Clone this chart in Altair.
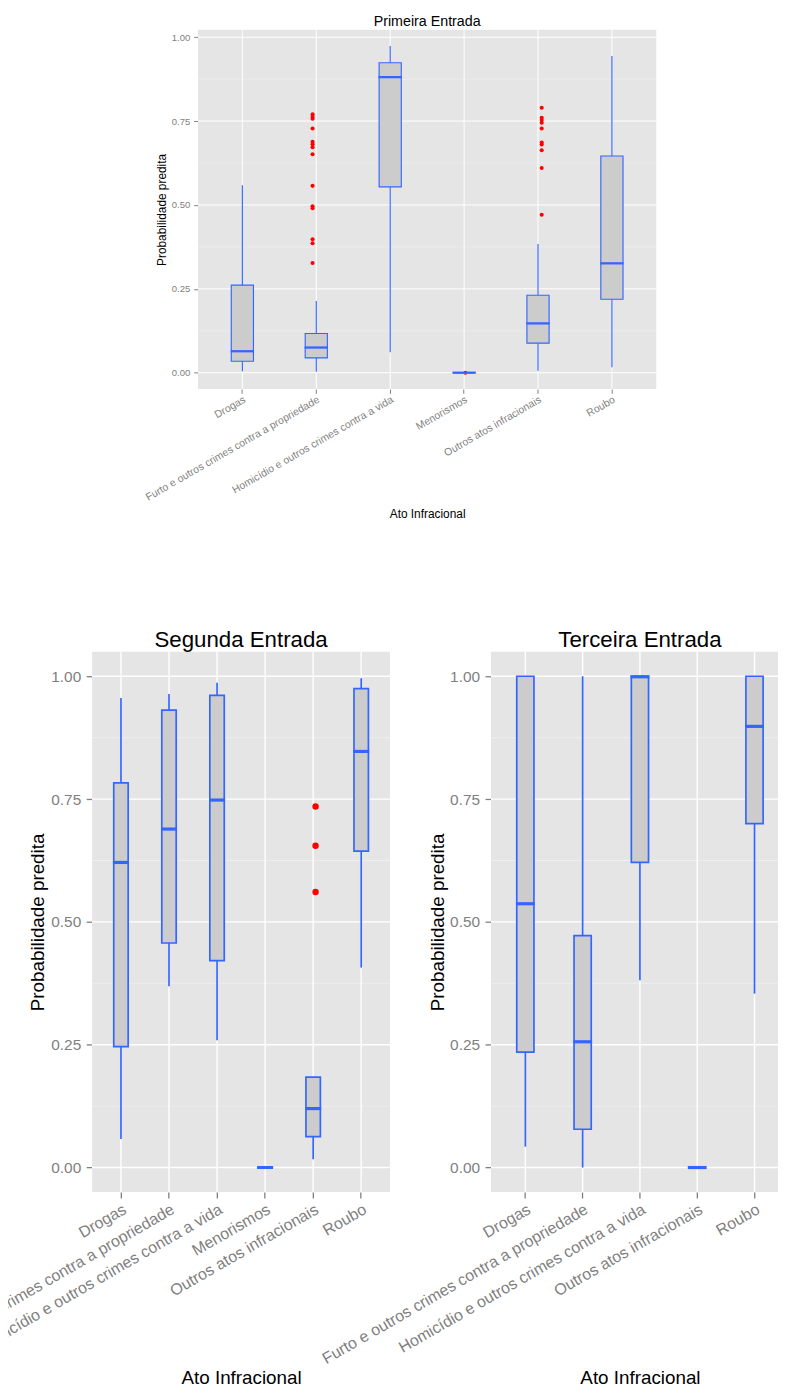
import altair as alt
import pandas as pd

# ---------------- data ----------------
CATS6 = ["Drogas", "Furto e outros crimes contra a propriedade",
         "Homicídio e outros crimes contra a vida", "Menorismos",
         "Outros atos infracionais", "Roubo"]
CATS5 = ["Drogas", "Furto e outros crimes contra a propriedade",
         "Homicídio e outros crimes contra a vida",
         "Outros atos infracionais", "Roubo"]

# Primeira Entrada
P1_LOWER = [0.004, 0.003, 0.061, 0.0, 0.006, 0.016]
P1_Q1 = [0.034, 0.044, 0.554, 0.0, 0.088, 0.219]
P1_MED = [0.064, 0.075, 0.881, 0.0, 0.147, 0.326]
P1_Q3 = [0.261, 0.117, 0.924, 0.0, 0.231, 0.646]
P1_UPPER = [0.559, 0.214, 0.974, 0.0, 0.384, 0.944]
P1_OUT_CAT = (["Furto e outros crimes contra a propriedade"] * 14
              + ["Menorismos"]
              + ["Outros atos infracionais"] * 10)
P1_OUT_VAL = [0.770, 0.763, 0.757, 0.728, 0.688, 0.681, 0.672, 0.651,
              0.557, 0.496, 0.490, 0.398, 0.386, 0.327,
              0.0,
              0.790, 0.760, 0.753, 0.745, 0.728, 0.686, 0.680, 0.663,
              0.610, 0.471]

# Segunda Entrada
P2_LOWER = [0.058, 0.369, 0.259, 0.0, 0.017, 0.407]
P2_Q1 = [0.246, 0.457, 0.421, 0.0, 0.063, 0.644]
P2_MED = [0.621, 0.689, 0.748, 0.0, 0.120, 0.847]
P2_Q3 = [0.783, 0.931, 0.961, 0.0, 0.184, 0.975]
P2_UPPER = [0.956, 0.964, 0.987, 0.0, 0.184, 0.996]
P2_OUT_CAT = ["Outros atos infracionais"] * 3
P2_OUT_VAL = [0.735, 0.655, 0.561]

# Terceira Entrada
P3_LOWER = [0.0425, 0.0, 0.381, 0.0, 0.354]
P3_Q1 = [0.235, 0.078, 0.621, 0.0, 0.700]
P3_MED = [0.537, 0.256, 0.999, 0.0, 0.898]
P3_Q3 = [1.0, 0.472, 1.0, 0.0, 1.0]
P3_UPPER = [1.0, 1.0, 1.0, 0.0, 1.0]
P3_OUT_CAT = []
P3_OUT_VAL = []

Y_TICKS = [0.0, 0.25, 0.5, 0.75, 1.0]
MINOR = [0.125, 0.375, 0.625, 0.875]

BLUE = "#3366FF"
BOXFILL = "#CCCCCC"
RED = "#FF0000"
BG = "#E5E5E5"
MINOR_COL = "#F2F2F2"
GREY = "#7F7F7F"
FONT = "Liberation Sans"

W, H = 778, 1386   # whole drawing (page minus 8px margin)


def panel(cats, lower, q1, med, q3, upper, out_cats, out_vals, title,
          box, dom, s):
    x0, x1, ytop, ybot = box
    stats = pd.DataFrame({"ato": cats, "lower": lower, "q1": q1,
                          "med": med, "q3": q3, "upper": upper})
    outl = pd.DataFrame({"ato": out_cats, "v": out_vals})
    one = pd.DataFrame({"k": [0]})
    step = (x1 - x0) / (len(cats) + 0.2)

    xscale = alt.Scale(domain=cats, range=[x0, x1], paddingInner=0,
                       paddingOuter=0.1)
    yscale = alt.Scale(domain=dom, range=[ybot, ytop], nice=False,
                       zero=False)

    xaxis = alt.Axis(title="Ato Infracional", orient="bottom",
                     offset=ybot - H, grid=False,
                     labelAngle=330, labelAlign="right", labelBaseline="top",
                     labelFontSize=s["xtick"], titleFontSize=s["axt"],
                     tickSize=s["ticklen"], tickWidth=s["tw"],
                     labelPadding=s["xlp"], bandPosition=0.5,
                     titleY=s["xty"], titleBaseline="alphabetic",
                     labelLimit=1000, labelOverlap=False)
    yaxis = alt.Axis(title="Probabilidade predita", orient="left",
                     offset=-x0, grid=False, values=Y_TICKS,
                     format=".2f", labelFontSize=s["tick"],
                     titleFontSize=s["axt"], tickSize=s["ticklen"],
                     tickWidth=s["tw"], labelPadding=s["ylp"],
                     titleX=s["ytx"], titleBaseline="middle")

    def X(ax=None):
        return alt.X("ato:N", scale=xscale, sort=cats, axis=ax)

    def Y(f, ax=None):
        return alt.Y(f, scale=yscale, axis=ax)

    bg = alt.Chart(one).mark_rect(color=BG).encode(
        x=alt.value(x0), x2=alt.value(x1),
        y=alt.value(ytop), y2=alt.value(ybot))
    minor_l = alt.Chart(pd.DataFrame({"v": MINOR})).mark_rule(
        color=MINOR_COL, strokeWidth=s["mgw"]).encode(
        y=Y("v:Q"), x=alt.value(x0), x2=alt.value(x1))
    major_l = alt.Chart(pd.DataFrame({"v": Y_TICKS})).mark_rule(
        color="white", strokeWidth=s["gw"]).encode(
        y=Y("v:Q"), x=alt.value(x0), x2=alt.value(x1))
    vgrid = alt.Chart(pd.DataFrame({"ato": cats})).mark_rule(
        color="white", strokeWidth=s["gw"]).encode(
        x=X(), y=alt.value(ytop), y2=alt.value(ybot))
    out_l = alt.Chart(outl).mark_circle(
        color=RED, opacity=1, size=s["pt"]).encode(x=X(), y=Y("v:Q"))
    wlo = alt.Chart(stats).mark_rule(
        color=BLUE, strokeWidth=s["lw"]).encode(
        x=X(), y=Y("lower:Q"), y2="q1:Q")
    whi = alt.Chart(stats).mark_rule(
        color=BLUE, strokeWidth=s["lw"]).encode(
        x=X(), y=Y("q3:Q"), y2="upper:Q")
    boxl = alt.Chart(stats).mark_bar(
        width=alt.RelativeBandSize(band=0.3), fill=BOXFILL, stroke=BLUE,
        strokeWidth=s["lw"]).encode(
        x=X(xaxis), y=Y("q1:Q", yaxis), y2="q3:Q")
    medl = alt.Chart(stats).mark_tick(
        color=BLUE, thickness=s["mt"], size=0.3 * step + s["lw"],
        opacity=1).encode(x=X(), y=Y("med:Q"))
    ttl = alt.Chart(one).mark_text(
        text=title, font=FONT, fontSize=s["title"], align="center",
        baseline="alphabetic", color="black").encode(
        x=alt.value((x0 + x1) / 2), y=alt.value(ytop - s["toff"]))

    layers = [bg, minor_l, major_l, vgrid]
    if len(out_vals):
        layers.append(out_l)
    layers += [wlo, whi, boxl, medl, ttl]
    return layers


S_TOP = dict(tick=9.6, xtick=10.6, axt=12, title=14.4, ticklen=4.3,
             lw=1.15, tw=1.0, xlp=1, ylp=4, gw=1.0, mgw=0.5, pt=17, mt=2.3,
             xty=130.2, ytx=-36.5, toff=3.5)
S_BL = dict(tick=15.6, xtick=16.2, axt=19, title=22.5, ticklen=6, lw=1.7,
            tw=1.3, xlp=3, ylp=5.5, gw=1.4, mgw=0.7, pt=42, mt=3.2,
            xty=193.8, ytx=-55, toff=5.2)
S_BR = dict(S_BL, ytx=-54)

# panel boxes (x0, x1, top, bottom) in drawing coordinates
L = []
L += panel(CATS6, P1_LOWER, P1_Q1, P1_MED, P1_Q3, P1_UPPER,
           P1_OUT_CAT, P1_OUT_VAL, "Primeira Entrada",
           (192, 655, 14.8, 377.8), [-0.0487, 1.0222], S_TOP)
L += panel(CATS6, P2_LOWER, P2_Q1, P2_MED, P2_Q3, P2_UPPER,
           P2_OUT_CAT, P2_OUT_VAL, "Segunda Entrada",
           (85, 386, 643.2, 1189.2), [-0.05, 1.05], S_BL)
L += panel(CATS5, P3_LOWER, P3_Q1, P3_MED, P3_Q3, P3_UPPER,
           P3_OUT_CAT, P3_OUT_VAL, "Terceira Entrada",
           (488, 789, 643.2, 1189.2), [-0.05, 1.05], S_BR)

chart = alt.layer(*L).resolve_scale(
    x="independent", y="independent"
).resolve_axis(
    x="independent", y="independent"
).properties(
    width=W, height=H, padding=0,
    autosize=alt.AutoSizeParams(type="none"),
).configure_view(strokeWidth=0).configure_axis(
    domain=False, labelFont=FONT, titleFont=FONT, labelColor=GREY,
    tickColor=GREY, titleColor="black", titleFontWeight="normal",
)

chart.save("out.html", embed_options={"renderer": "svg", "actions": False})
